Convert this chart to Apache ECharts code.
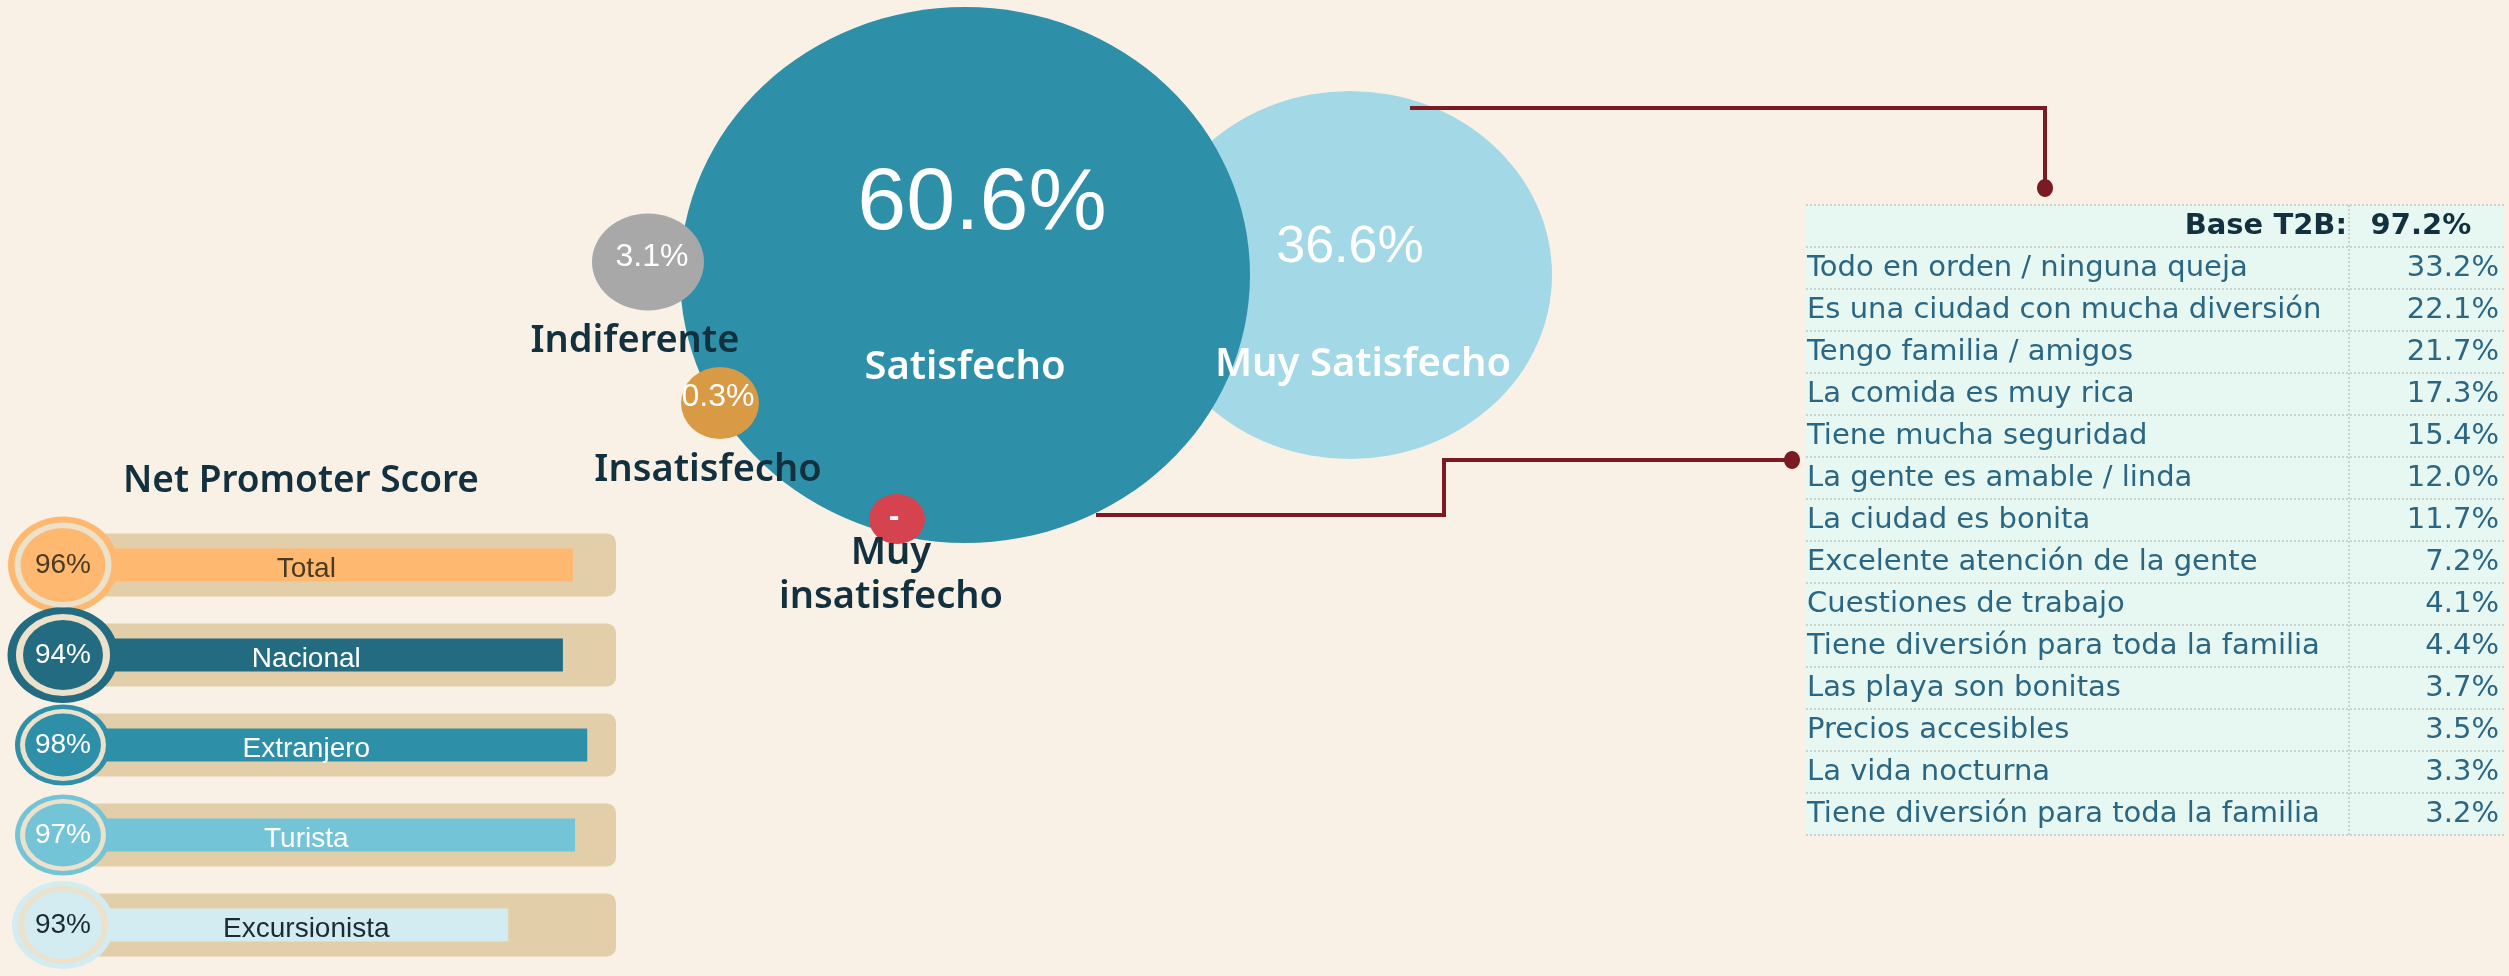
<!DOCTYPE html>
<html>
<head>
<meta charset="utf-8">
<style>
  html, body { margin: 0; padding: 0; background: #faf1e6; }
  #chart { width: 2509px; height: 976px; }
</style>
<script src="https://cdn.jsdelivr.net/npm/echarts@6/dist/echarts.min.js"></script>
</head>
<body>
<div id="chart"></div>
<script>
// --- satisfacción ---
const levels = ['Muy Satisfecho', 'Satisfecho', 'Indiferente', 'Insatisfecho', 'Muy insatisfecho']
const levelValues = [36.6, 60.6, 3.1, 0.3, null] // null = sin dato ("-")

// --- net promoter score ---
const npsGroups = ['Total', 'Nacional', 'Extranjero', 'Turista', 'Excursionista']
const npsScores = [96, 94, 98, 97, 93]
const npsBarFill = [92.2, 90.4, 94.8, 92.6, 80.5] // largo de la barra (% de la pista)

// --- motivos T2B ---
const baseT2B = 97.2
const reasons = [
  'Todo en orden / ninguna queja',
  'Es una ciudad con mucha diversión',
  'Tengo familia / amigos',
  'La comida es muy rica',
  'Tiene mucha seguridad',
  'La gente es amable / linda',
  'La ciudad es bonita',
  'Excelente atención de la gente',
  'Cuestiones de trabajo',
  'Tiene diversión para toda la familia',
  'Las playa son bonitas',
  'Precios accesibles',
  'La vida nocturna',
  'Tiene diversión para toda la familia'
]
const reasonValues = [33.2, 22.1, 21.7, 17.3, 15.4, 12.0, 11.7, 7.2, 4.1, 4.4, 3.7, 3.5, 3.3, 3.2]

const chart = echarts.init(document.getElementById('chart'), null, { renderer: 'canvas' })
const dark = '#13303f'
const teal = '#2b6783'
const numFont = 'Liberation Sans'
const txtFont = 'Noto Sans'
const tblFont = 'DejaVu Sans'

// layout of bubbles (pixel space of the full canvas)
const bubbleStyle = {
  'Muy Satisfecho': { pos: [1350, 275], size: [404, 368], color: '#a3d8e6', vFont: 52, vOff: [0, -27], nOff: [13, 90], nColor: '#fff' },
  'Satisfecho': { pos: [965, 275], size: [570, 536], color: '#2e8fa8', vFont: 88, vOff: [17, -70], nOff: [0, 93], nColor: '#fff' },
  'Indiferente': { pos: [648, 262], size: [112, 97], color: '#a8a8a8', vFont: 32, vOff: [4, -5], nOff: [-13, 79], nColor: dark },
  'Insatisfecho': { pos: [720, 403], size: [78, 72], color: '#d99a45', vFont: 32, vOff: [-2, -6], nOff: [-12, 67], nColor: dark },
  'Muy insatisfecho': { pos: [897, 519], size: [56, 50], color: '#d4434e', vFont: 32, vOff: [-3, -2], nOff: [-6, 56], nColor: dark }
}

const npsColors = ['#ffb870', '#236b80', '#2e8fa8', '#74c4d8', '#d2ecf2']
const npsText = ['#4a3a22', '#fff', '#fff', '#fff', '#1c2b33']
const ringOuter = [[110, 97], [111, 96], [96, 81], [96, 81], [102, 88]]
const ringBeige = [[97, 85], [94, 82], [86, 72], [86, 72], [90, 78]]
const ringInner = [[85, 74], [80, 70], [76, 63], [76, 63], [78, 68]]

const tableRows = ['Base T2B:'].concat(reasons)
const dividerX = 77.8
const solid = { opacity: 1 }
const dotted = { color: '#c9d2cf', type: 'dotted', width: 2 }

const option = {
  backgroundColor: '#faf1e6',
  animation: false,
  grid: [
    { left: 0, top: 0, width: 2509, height: 976 },
    { left: 63, top: 520, width: 553, height: 450 },
    { left: 1806, top: 205, width: 698, height: 630, show: true, backgroundColor: '#e7f7f1', borderWidth: 0 }
  ],
  xAxis: [
    { gridIndex: 0, type: 'value', min: 0, max: 2509, show: false },
    { gridIndex: 1, type: 'value', min: 0, max: 100, show: false },
    {
      gridIndex: 2, type: 'value', min: 0, max: 100,
      axisLine: { show: false }, axisTick: { show: false }, axisLabel: { show: false }, splitLine: { show: false }
    }
  ],
  yAxis: [
    { gridIndex: 0, type: 'value', min: 0, max: 976, inverse: true, show: false },
    { gridIndex: 1, type: 'category', data: npsGroups, inverse: true, show: false },
    { gridIndex: 1, type: 'category', data: npsGroups, inverse: true, show: false },
    {
      gridIndex: 2, type: 'category', data: tableRows, inverse: true,
      axisLine: { show: false }, axisTick: { show: false }, axisLabel: { show: false },
      splitLine: { show: true, lineStyle: dotted }
    }
  ],
  title: {
    text: 'Net Promoter Score',
    left: 296, top: 458, textAlign: 'center',
    textStyle: { fontFamily: txtFont, fontWeight: 600, fontSize: 37, color: dark }
  },
  series: [
    // bubbles
    {
      type: 'scatter', xAxisIndex: 0, yAxisIndex: 0, z: 2,
      data: levels.map((name, i) => {
        const s = bubbleStyle[name]
        return {
          name,
          value: s.pos,
          symbolSize: s.size,
          itemStyle: { color: s.color, opacity: 1 },
          label: {
            show: true, position: 'inside', offset: s.vOff,
            formatter: levelValues[i] == null ? '-' : levelValues[i].toFixed(1) + '%',
            fontFamily: numFont, fontSize: s.vFont, color: '#fff',
            fontWeight: levelValues[i] == null ? 'bold' : 'normal'
          }
        }
      })
    },
    {
      type: 'scatter', xAxisIndex: 0, yAxisIndex: 0, z: 4, symbolSize: 0, itemStyle: solid,
      data: levels.map((name) => {
        const s = bubbleStyle[name]
        const big = name === 'Satisfecho' || name === 'Muy Satisfecho'
        return {
          name,
          value: s.pos,
          label: {
            show: true, position: 'inside', offset: s.nOff,
            formatter: name === 'Muy insatisfecho' ? 'Muy\ninsatisfecho' : name,
            fontFamily: txtFont, fontWeight: 600, fontSize: big ? 40 : 38,
            lineHeight: 44, color: s.nColor, align: 'center'
          }
        }
      })
    },
    // NPS track
    {
      type: 'bar', xAxisIndex: 1, yAxisIndex: 1, barWidth: 63, silent: true,
      data: npsGroups.map(() => 100),
      itemStyle: { color: '#e2cfaa', borderRadius: 9 }
    },
    // NPS fill
    {
      type: 'bar', xAxisIndex: 1, yAxisIndex: 2, barWidth: 33,
      data: npsBarFill.map((v, i) => ({ value: v, itemStyle: { color: npsColors[i] } }))
    },
    // group names
    {
      type: 'scatter', xAxisIndex: 1, yAxisIndex: 2, symbolSize: 0, z: 5, itemStyle: solid,
      data: npsGroups.map((g, i) => ({
        value: [44, g],
        label: { show: true, position: 'inside', offset: [0, 4], formatter: g, fontFamily: numFont, fontSize: 28, color: npsText[i] }
      }))
    },
    // circles
    {
      type: 'scatter', xAxisIndex: 1, yAxisIndex: 1, z: 6,
      data: npsGroups.map((g, i) => ({ value: [0, g], symbolSize: ringOuter[i], itemStyle: { color: npsColors[i], opacity: 1 } }))
    },
    {
      type: 'scatter', xAxisIndex: 1, yAxisIndex: 1, z: 7,
      data: npsGroups.map((g, i) => ({ value: [0, g], symbolSize: ringBeige[i], itemStyle: { color: '#ece2cb', opacity: 1 } }))
    },
    {
      type: 'scatter', xAxisIndex: 1, yAxisIndex: 1, z: 8,
      data: npsGroups.map((g, i) => ({
        value: [0, g], symbolSize: ringInner[i], itemStyle: { color: npsColors[i], opacity: 1 },
        label: { show: true, position: 'inside', formatter: npsScores[i] + '%', fontFamily: numFont, fontSize: 28, color: npsText[i] }
      }))
    },
    // table: reasons
    {
      type: 'scatter', xAxisIndex: 2, yAxisIndex: 3, symbolSize: 0, itemStyle: solid,
      data: reasons.map((r, i) => ({
        value: [0, i + 1],
        label: { show: true, position: 'right', distance: 1, formatter: r, fontFamily: tblFont, fontSize: 29, color: teal }
      })),
      markLine: {
        silent: true, symbol: 'none', label: { show: false },
        lineStyle: dotted,
        data: [{ xAxis: dividerX }]
      }
    },
    // table: values
    {
      type: 'scatter', xAxisIndex: 2, yAxisIndex: 3, symbolSize: 0, itemStyle: solid,
      data: reasonValues.map((v, i) => ({
        value: [100, i + 1],
        label: { show: true, position: 'left', distance: 5, formatter: v.toFixed(1) + '%', fontFamily: tblFont, fontSize: 29, color: teal }
      }))
    },
    // table: header
    {
      type: 'scatter', xAxisIndex: 2, yAxisIndex: 3, symbolSize: 0, itemStyle: solid,
      data: [
        { value: [dividerX, 0], label: { show: true, position: 'left', distance: 2, formatter: 'Base T2B:', fontFamily: tblFont, fontWeight: 'bold', fontSize: 29, color: dark } },
        { value: [95.3, 0], label: { show: true, position: 'left', distance: 0, formatter: baseT2B.toFixed(1) + '%', fontFamily: tblFont, fontWeight: 'bold', fontSize: 29, color: dark } }
      ]
    }
  ],
  graphic: [
    { type: 'polyline', z: 100, shape: { points: [[1410, 108], [2045, 108], [2045, 188]] }, style: { stroke: '#7a1a22', lineWidth: 4, fill: null } },
    { type: 'ellipse', z: 100, shape: { cx: 2045, cy: 188, rx: 8, ry: 9 }, style: { fill: '#7a1a22' } },
    { type: 'polyline', z: 100, shape: { points: [[1096, 515], [1444, 515], [1444, 460], [1792, 460]] }, style: { stroke: '#7a1a22', lineWidth: 4, fill: null } },
    { type: 'ellipse', z: 100, shape: { cx: 1792, cy: 460, rx: 8, ry: 9 }, style: { fill: '#7a1a22' } }
  ]
}

chart.setOption(option)
window.addEventListener('resize', function () {
  chart.resize()
})
</script>
</body>
</html>
